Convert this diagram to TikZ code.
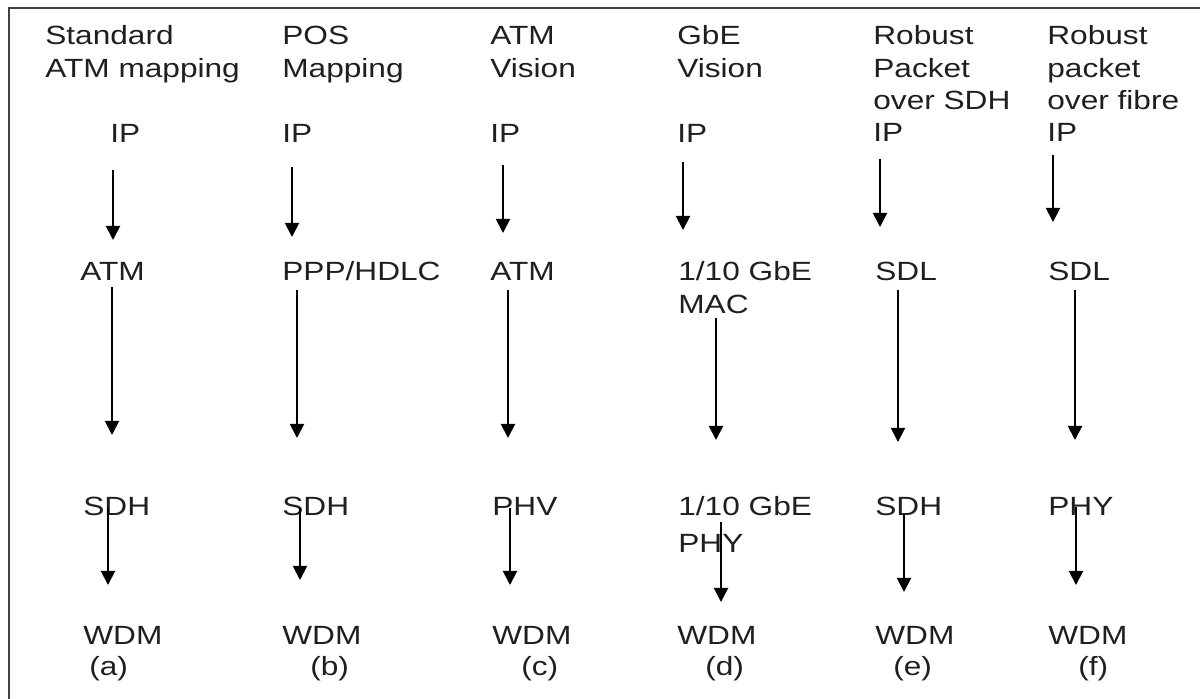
\documentclass[tikz,border=0pt]{standalone}
\usepackage{fontspec}
\setmainfont{Liberation Sans}[FakeStretch=1.2]
\usetikzlibrary{arrows.meta}
\begin{document}
\begin{tikzpicture}[x=0.02cm,y=-0.02cm,
  lbl/.style={anchor=base west, inner sep=0pt, text=black!88,
    font=\fontsize{15}{18}\selectfont},
  arr/.style={line width=1.1pt, -{Triangle[width=8pt,length=8pt]}},
  frame/.style={line width=1.2pt, draw=black!75}]
\useasboundingbox (0,0) rectangle (1200,699);
\draw[frame] (9,699) -- (9,8) -- (1200,8);
% headers
\node[lbl] (ha1) at (45,45) {Standard};
\node[lbl] (ha2) at (45,78) {ATM mapping};
\node[lbl] (hb1) at (282,45) {POS};
\node[lbl] (hb2) at (282,78) {Mapping};
\node[lbl] (hc1) at (490,45) {ATM};
\node[lbl] (hc2) at (490,78) {Vision};
\node[lbl] (hd1) at (677,45) {GbE};
\node[lbl] (hd2) at (677,78) {Vision};
\node[lbl] (he1) at (873,45) {Robust};
\node[lbl] (he2) at (873,78) {Packet};
\node[lbl] (he3) at (873,110) {over SDH};
\node[lbl] (hf1) at (1047,45) {Robust};
\node[lbl] (hf2) at (1047,78) {packet};
\node[lbl] (hf3) at (1047,110) {over fibre};
% IP row
\node[lbl] (ipa) at (110,143) {IP};
\node[lbl] (ipb) at (282,143) {IP};
\node[lbl] (ipc) at (490,143) {IP};
\node[lbl] (ipd) at (677,143) {IP};
\node[lbl] (ipe) at (873,142) {IP};
\node[lbl] (ipf) at (1047,142) {IP};
% row 2
\node[lbl] (ra) at (80,280) {ATM};
\node[lbl] (rb) at (282,280) {PPP/HDLC};
\node[lbl] (rc) at (490,280) {ATM};
\node[lbl] (rd1) at (678,280) {1/10 GbE};
\node[lbl] (rd2) at (678,314) {MAC};
\node[lbl] (re) at (875,280) {SDL};
\node[lbl] (rf) at (1048,280) {SDL};
% row 3
\node[lbl] (sa) at (83,515) {SDH};
\node[lbl] (sb) at (282,515) {SDH};
\node[lbl] (sc) at (492,515) {PHV};
\node[lbl] (sd1) at (678,515) {1/10 GbE};
\node[lbl] (sd2) at (678,552) {PHY};
\node[lbl] (se) at (875,515) {SDH};
\node[lbl] (sf) at (1048,515) {PHY};
% WDM row
\node[lbl] (wa) at (83,644) {WDM};
\node[lbl] (wb) at (282,644) {WDM};
\node[lbl] (wc) at (492,644) {WDM};
\node[lbl] (wd) at (677,644) {WDM};
\node[lbl] (we) at (875,644) {WDM};
\node[lbl] (wf) at (1048,644) {WDM};
\node[lbl] (la) at (89,675) {(a)};
\node[lbl] (lb) at (310,675) {(b)};
\node[lbl] (lc) at (521,675) {(c)};
\node[lbl] (ld) at (705,675) {(d)};
\node[lbl] (le) at (893,675) {(e)};
\node[lbl] (lf) at (1078,675) {(f)};
% arrow end points
\coordinate (a1s) at (113,170); \coordinate (a1e) at (113,240);
\coordinate (b1s) at (292,167); \coordinate (b1e) at (292,237);
\coordinate (c1s) at (503,165); \coordinate (c1e) at (503,233);
\coordinate (d1s) at (683,162); \coordinate (d1e) at (683,230);
\coordinate (e1s) at (880,159); \coordinate (e1e) at (880,227);
\coordinate (f1s) at (1053,155); \coordinate (f1e) at (1053,222);
\coordinate (a2s) at (112,287); \coordinate (a2e) at (112,435);
\coordinate (b2s) at (297,290); \coordinate (b2e) at (297,438);
\coordinate (c2s) at (508,290); \coordinate (c2e) at (508,438);
\coordinate (d2s) at (716,318); \coordinate (d2e) at (716,440);
\coordinate (e2s) at (898,290); \coordinate (e2e) at (898,442);
\coordinate (f2s) at (1075,290); \coordinate (f2e) at (1075,440);
\coordinate (a3s) at (108,508); \coordinate (a3e) at (108,585);
\coordinate (b3s) at (300,508); \coordinate (b3e) at (300,580);
\coordinate (c3s) at (510,508); \coordinate (c3e) at (510,585);
\coordinate (d3s) at (721,522); \coordinate (d3e) at (721,602);
\coordinate (e3s) at (904,515); \coordinate (e3e) at (904,592);
\coordinate (f3s) at (1076,507); \coordinate (f3e) at (1076,585);
\foreach \c in {a,b,c,d,e,f}{
  \foreach \r in {1,2,3}{
    \draw[arr] (\c\r s) -- (\c\r e);
  }
}
\end{tikzpicture}
\end{document}
